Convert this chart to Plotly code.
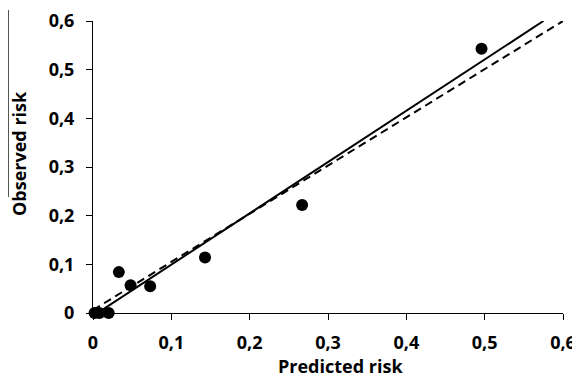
import plotly.graph_objects as go

# Data
predicted = [0.002, 0.008, 0.020, 0.033, 0.048, 0.073, 0.143, 0.267, 0.496]
observed = [0.0, 0.0, 0.0, 0.084, 0.057, 0.055, 0.114, 0.222, 0.543]

fit_x = [0.0, 0.575]
fit_y = [-0.006, 0.600]
ideal_x = [0.0, 0.6]
ideal_y = [0.006, 0.600]

tick_vals = [0, 0.1, 0.2, 0.3, 0.4, 0.5, 0.6]
tick_text = ["0", "0,1", "0,2", "0,3", "0,4", "0,5", "0,6"]

FONT = "'Open Sans', sans-serif"

# page body has an 8px margin, so the figure is drawn 8px in from the corner
W, H = 572, 374
L, R, T, B = 85, 17, 13, 69
PW, PH = W - L - R, H - T - B

def px(x):  # page x -> paper x
    return (x - 8 - L) / PW

def py(y):  # page y -> paper y
    return (H - B - (y - 8)) / PH

fig = go.Figure()
fig.add_trace(go.Scatter(x=ideal_x, y=ideal_y, mode="lines",
                         line=dict(color="black", width=2, dash="8px,5px"),
                         showlegend=False, cliponaxis=False))
fig.add_trace(go.Scatter(x=fit_x, y=fit_y, mode="lines",
                         line=dict(color="black", width=2),
                         showlegend=False, cliponaxis=False))
fig.add_trace(go.Scatter(x=predicted, y=observed, mode="markers",
                         marker=dict(color="black", size=12),
                         showlegend=False, cliponaxis=False))

axis_common = dict(
    range=[0, 0.6], tickvals=tick_vals, ticktext=tick_text,
    showgrid=False, zeroline=False, showline=True, linecolor="black",
    linewidth=1, ticks="outside", ticklen=6, tickcolor="black",
    automargin=False, ticklabeloverflow="allow",
    tickfont=dict(family=FONT, size=18, color="black", weight="bold"),
)

fig.update_layout(
    width=W, height=H,
    margin=dict(l=L, r=R, t=T, b=B),
    plot_bgcolor="white", paper_bgcolor="white",
    xaxis=dict(**axis_common, ticklabelstandoff=7),
    yaxis=dict(**axis_common, ticklabelstandoff=8),
    annotations=[
        dict(text="Predicted risk", xref="paper", yref="paper",
             x=px(340), y=py(366), xanchor="center", yanchor="middle",
             showarrow=False,
             font=dict(family=FONT, size=18, color="black", weight="bold")),
        dict(text="Observed risk", xref="paper", yref="paper",
             x=px(19), y=py(154), xanchor="center", yanchor="middle",
             textangle=-90, showarrow=False,
             font=dict(family=FONT, size=18, color="black", weight="bold")),
    ],
    shapes=[dict(type="line", xref="paper", yref="paper",
                 x0=px(8.5), x1=px(8.5), y0=py(10), y1=py(197),
                 line=dict(color="#555555", width=1))],
)

fig.write_html("out.html")
